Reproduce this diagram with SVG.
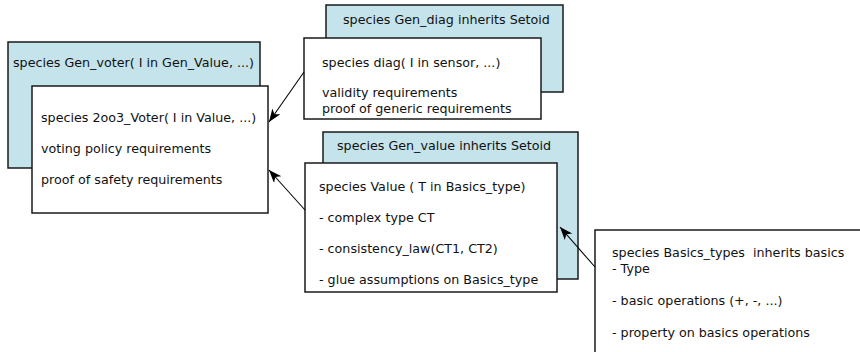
<svg xmlns="http://www.w3.org/2000/svg" width="860" height="352" viewBox="0 0 860 352">
<defs>
<style>
.gen{fill:#c5e3eb;stroke:#1a1a1a;stroke-width:1.5}
.spec{fill:#ffffff;stroke:#1a1a1a;stroke-width:1.5}
text{font-family:"DejaVu Sans",Verdana,sans-serif;font-size:12.7px;fill:#111}
.conn{stroke:#000;stroke-width:1.1;fill:none;marker-end:url(#arr)}
</style>
<marker id="arr" markerUnits="userSpaceOnUse" markerWidth="16" markerHeight="12" refX="13" refY="5" orient="auto">
<path d="M0,0 L13,5 L0,10 L3.5,5 Z" fill="#000"/>
</marker>
</defs>
<g id="gen_voter">
<rect class="gen" x="8" y="42" width="252" height="126"/>
<text x="13" y="67">species Gen_voter( I in Gen_Value, ...)</text>
</g>
<g id="voter_2oo3">
<rect class="spec" x="32" y="86" width="236" height="127"/>
<text x="41" y="122">species 2oo3_Voter( I in Value, ...)</text>
<text x="41" y="153">voting policy requirements</text>
<text x="41" y="184">proof of safety requirements</text>
</g>
<g id="gen_diag">
<rect class="gen" x="326" y="5" width="237" height="87"/>
<text x="343" y="24">species Gen_diag inherits Setoid</text>
</g>
<g id="diag">
<rect class="spec" x="304" y="38" width="237" height="81"/>
<text x="322" y="67">species diag( I in sensor, ...)</text>
<text x="322" y="97">validity requirements</text>
<text x="322" y="113">proof of generic requirements</text>
</g>
<g id="gen_value">
<rect class="gen" x="323" y="132" width="255" height="147"/>
<text x="337" y="150">species Gen_value inherits Setoid</text>
</g>
<g id="value">
<rect class="spec" x="305" y="163" width="252" height="129"/>
<text x="319" y="191">species Value ( T in Basics_type)</text>
<text x="319" y="222">- complex type CT</text>
<text x="319" y="253">- consistency_law(CT1, CT2)</text>
<text x="319" y="284">- glue assumptions on Basics_type</text>
</g>
<g id="basics_types">
<rect class="spec" x="595" y="230" width="280" height="140"/>
<text x="612" y="257" xml:space="preserve">species Basics_types  inherits basics</text>
<text x="612" y="273">- Type</text>
<text x="612" y="305">- basic operations (+, -, ...)</text>
<text x="612" y="337">- property on basics operations</text>
</g>
<g id="connectors">
<line class="conn" x1="304" y1="72" x2="269" y2="122"/>
<line class="conn" x1="305" y1="210" x2="269" y2="170"/>
<line class="conn" x1="595" y1="267" x2="560" y2="227"/>
</g>
</svg>
